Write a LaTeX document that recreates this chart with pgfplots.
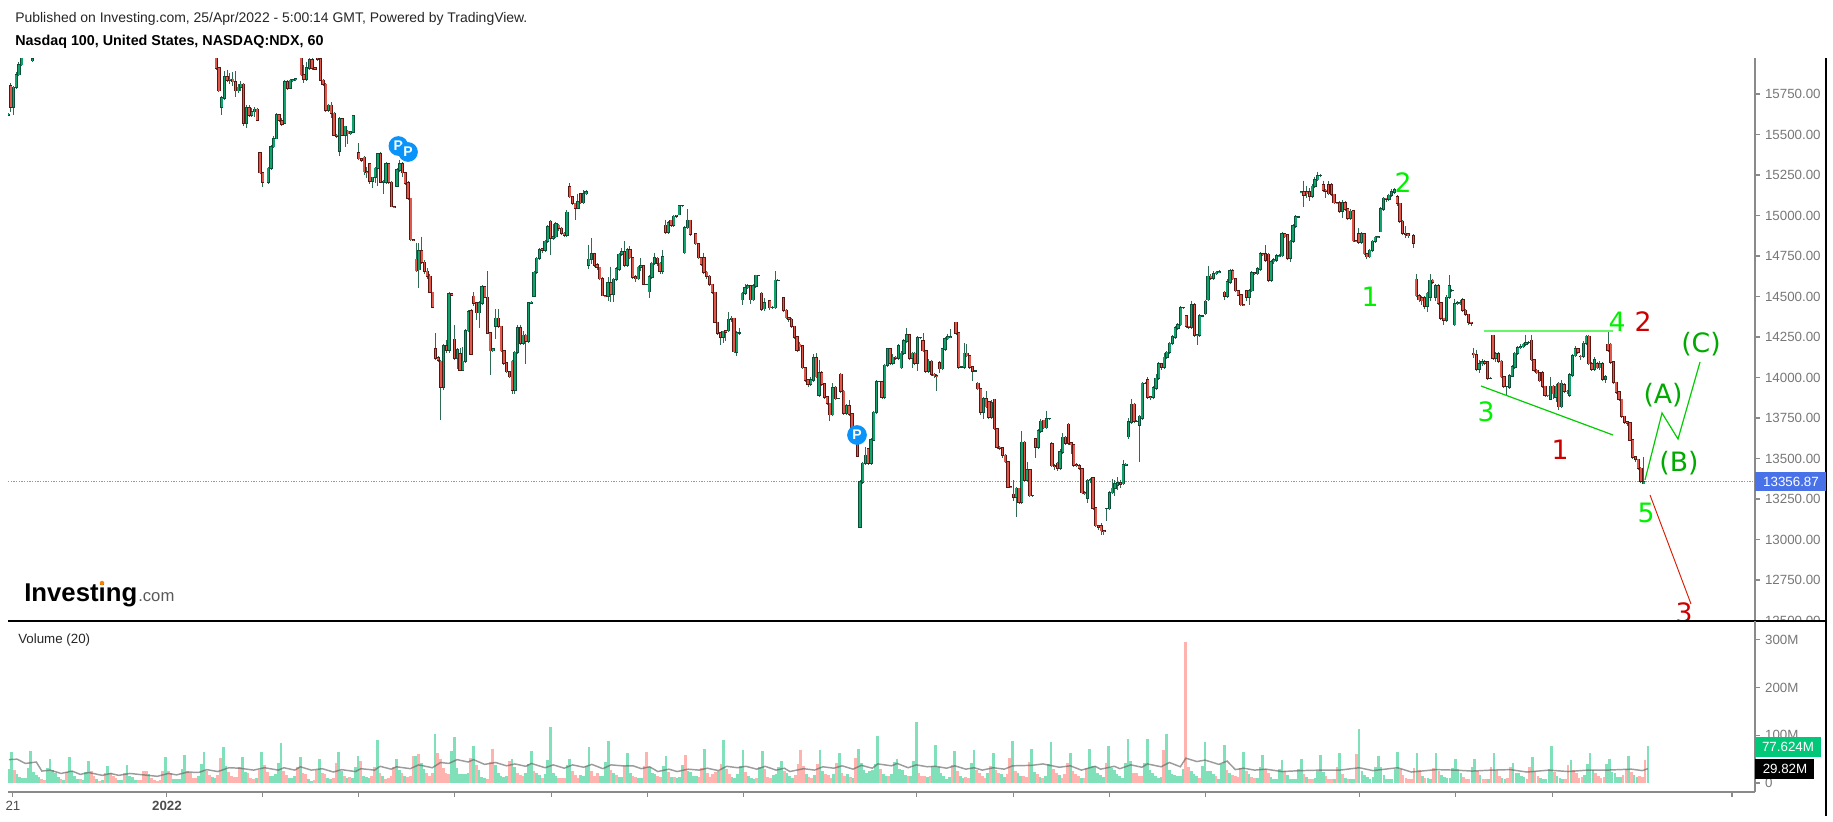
\documentclass[border=0pt]{standalone}
\usepackage{pgfplots}
\usepackage{pgfplotstable}
\usepackage{fontspec}
\setmainfont{Liberation Sans}
\newfontfamily\wavefont{DejaVu Sans}
\pgfplotsset{compat=1.18}
\definecolor{upf}{HTML}{12A36D}\definecolor{upo}{HTML}{0B4F38}
\definecolor{dnf}{HTML}{E0584C}\definecolor{dno}{HTML}{5A1712}
\definecolor{wickc}{HTML}{2F6B52}
\definecolor{vg}{HTML}{80E0B9}\definecolor{vr}{HTML}{FFB3AE}
\definecolor{axg}{HTML}{8A8A8A}\definecolor{txg}{HTML}{777777}
\definecolor{lime}{HTML}{00F000}\definecolor{wgreen}{HTML}{00AA00}\definecolor{wred}{HTML}{CC0000}
\definecolor{pblue}{HTML}{0A94FA}\definecolor{dotb}{HTML}{7F95E8}\definecolor{tagb}{HTML}{4A72E8}\definecolor{tagg}{HTML}{00C878}
\pgfplotstableread{
i o c l h
0 15620 15625 15612 15632
1 15800 15670 15640 15815
2 15670 15790 15620 15800
3 15790 15870 15780 15885
4 15870 15930 15860 15945
5 15930 16010 15920 16030
6 16010 16080 16000 16100
7 16080 16050 16020 16100
9 15955 15965 15945 15990
76 15990 15910 15900 16010
77 15910 15770 15765 15915
78 15670 15725 15620 15740
79 15725 15855 15715 15890
80 15855 15835 15825 15900
81 15835 15840 15810 15880
82 15840 15825 15800 15885
83 15825 15770 15730 15890
84 15770 15790 15755 15810
85 15790 15810 15770 15830
86 15810 15570 15550 15815
87 15570 15665 15540 15680
88 15665 15620 15610 15680
89 15620 15640 15605 15665
90 15640 15655 15610 15670
91 15655 15590 15585 15665
92 15385 15265 15255 15390
93 15265 15205 15175 15270
95 15205 15290 15195 15300
96 15290 15425 15280 15435
97 15425 15475 15415 15490
98 15475 15620 15470 15630
99 15620 15590 15580 15625
100 15585 15565 15555 15600
101 15570 15825 15565 15835
102 15825 15785 15775 15835
103 15785 15835 15780 15840
104 15835 15838 15825 15845
105 15838 15845 15830 15850
107 15990 15870 15860 16000
108 15870 15840 15820 15930
109 15840 15910 15830 15950
110 15910 15960 15900 15980
111 15960 15910 15895 15970
112 15910 15905 15895 15915
113 15990 15965 15955 16000
114 15965 15835 15830 15970
115 15835 15810 15800 15840
116 15810 15650 15640 15815
117 15650 15680 15640 15690
118 15680 15630 15600 15700
119 15630 15495 15490 15640
120 15495 15490 15480 15500
121 15395 15595 15365 15610
122 15595 15495 15490 15600
123 15495 15550 15420 15555
124 15520 15505 15440 15530
125 15505 15515 15495 15520
126 15515 15615 15510 15620
128 15385 15350 15340 15445
129 15350 15340 15330 15355
130 15360 15270 15250 15365
131 15270 15265 15230 15300
132 15320 15210 15195 15325
133 15210 15235 15170 15240
134 15235 15290 15200 15300
135 15290 15380 15180 15385
136 15380 15205 15200 15390
137 15205 15210 15130 15220
138 15205 15320 15195 15330
139 15320 15205 15195 15325
140 15205 15055 15050 15210
141 15055 15052 15045 15060
142 15180 15280 15175 15295
143 15280 15320 15270 15340
144 15320 15265 15240 15330
145 15265 15200 15190 15270
146 15200 15105 15095 15210
147 15105 14850 14845 15110
148 14850 14848 14840 14855
149 14730 14660 14650 14830
150 14665 14780 14555 14830
151 14780 14710 14700 14870
152 14710 14655 14640 14725
153 14655 14625 14610 14675
154 14625 14525 14520 14640
155 14525 14435 14430 14530
156 14175 14120 14110 14275
157 14120 14105 14095 14130
158 14100 13940 13735 14110
159 13940 14195 13925 14205
160 14195 14170 14150 14230
161 14170 14515 14150 14525
162 14515 14510 14505 14520
163 14235 14120 14110 14325
164 14120 14170 14055 14180
165 14145 14045 14040 14185
166 14045 14100 14040 14190
167 14100 14290 14090 14300
168 14290 14405 14280 14415
169 14410 14145 14140 14420
170 14500 14460 14440 14525
171 14460 14400 14355 14465
172 14400 14460 14305 14470
173 14460 14560 14450 14570
174 14560 14495 14490 14565
175 14495 14275 14270 14655
176 14275 14165 14015 14280
177 14165 14175 14160 14185
178 14315 14365 14240 14420
179 14365 14315 14305 14420
180 14315 14165 14155 14320
181 14165 14090 14080 14170
182 14090 14035 14025 14095
183 14035 14005 13995 14040
184 14100 13920 13900 14110
185 13920 14155 13900 14165
186 14155 14305 14145 14325
187 14305 14210 14200 14325
188 14210 14260 14200 14285
189 14260 14225 14085 14270
190 14225 14460 14215 14465
191 14460 14465 14455 14470
192 14500 14650 14495 14660
193 14650 14735 14640 14745
194 14735 14790 14725 14800
195 14795 14785 14770 14800
196 14785 14840 14775 14850
197 14840 14930 14830 14940
198 14965 14860 14755 14970
199 14860 14870 14850 14950
200 14870 14950 14860 14960
201 14940 14920 14905 14950
202 14920 14890 14880 14930
203 14890 14880 14865 14895
204 14880 15020 14870 15035
205 15175 15115 15105 15200
206 15115 15075 15065 15120
207 15075 15045 14975 15080
208 15045 15085 15040 15135
209 15135 15080 15070 15140
210 15080 15135 15070 15155
211 15135 15145 15125 15160
212 14695 14730 14670 14820
213 14730 14765 14700 14860
214 14765 14695 14680 14770
215 14695 14680 14665 14705
216 14680 14610 14600 14685
217 14610 14505 14500 14620
218 14505 14500 14495 14510
219 14500 14585 14470 14620
220 14585 14515 14465 14685
221 14515 14605 14465 14615
222 14605 14670 14595 14680
223 14670 14760 14660 14770
224 14760 14775 14750 14800
225 14775 14695 14685 14840
226 14695 14790 14685 14800
227 14790 14740 14730 14810
228 14740 14620 14610 14745
229 14620 14610 14590 14630
230 14610 14680 14600 14690
231 14680 14690 14660 14735
232 14690 14575 14570 14695
233 14575 14575 14570 14580
234 14530 14620 14490 14630
235 14620 14705 14610 14715
236 14705 14740 14695 14770
237 14735 14705 14690 14745
238 14705 14655 14640 14710
239 14655 14745 14640 14785
240 14940 14895 14885 14975
241 14895 14955 14885 14965
242 14970 14940 14930 14975
243 14940 14995 14930 15005
244 15000 14995 14985 15005
245 15005 15060 15000 15065
246 15060 15060 15055 15065
247 14770 14925 14765 14935
248 14925 14970 14915 15040
249 14970 14885 14875 14975
251 14885 14825 14815 14890
252 14825 14740 14730 14830
253 14740 14700 14690 14745
254 14740 14650 14640 14770
255 14650 14625 14610 14660
256 14625 14575 14565 14630
257 14575 14525 14515 14580
258 14525 14340 14335 14530
259 14340 14275 14265 14345
260 14275 14250 14200 14280
261 14250 14285 14210 14290
262 14290 14280 14225 14295
263 14290 14360 14280 14405
264 14360 14365 14340 14380
265 14365 14160 14150 14370
266 14155 14275 14130 14285
267 14275 14275 14265 14305
268 14480 14520 14450 14530
269 14520 14555 14510 14575
270 14555 14565 14545 14575
271 14565 14480 14455 14570
272 14480 14565 14470 14575
273 14565 14630 14555 14635
274 14630 14630 14625 14635
275 14520 14420 14410 14525
276 14425 14460 14410 14490
278 14475 14430 14415 14480
279 14430 14430 14420 14440
280 14430 14600 14420 14655
281 14600 14600 14595 14605
283 14490 14415 14405 14495
284 14415 14370 14360 14420
285 14370 14360 14345 14375
286 14360 14315 14305 14365
287 14315 14250 14240 14320
288 14250 14170 14160 14255
289 14205 14190 14165 14220
290 14195 14060 14050 14200
291 14060 13985 13975 14065
292 13985 13960 13940 13990
293 13960 13985 13950 14000
294 13985 14120 13975 14145
295 14120 14005 13995 14150
296 13890 14030 13880 14110
297 14030 13960 13950 14040
298 13960 13880 13870 13965
299 13880 13840 13830 13885
300 13840 13770 13730 13845
301 13770 13935 13760 13965
302 13940 13870 13860 13945
303 13870 13870 13865 13875
304 14020 13915 13905 14030
305 13915 13780 13770 13920
306 13780 13825 13770 13835
307 13825 13775 13765 13860
308 13775 13685 13675 13780
309 13685 13595 13590 13690
310 13595 13515 13510 13600
311 13075 13355 13070 13365
312 13355 13470 13345 13480
313 13470 13520 13460 13570
314 13560 13470 13460 13565
315 13470 13615 13460 13625
316 13615 13785 13605 13795
317 13785 13975 13775 13985
318 13975 13975 13970 13980
319 13975 13880 13870 13980
320 13880 14075 13870 14085
321 14075 14175 14065 14180
322 14175 14090 14080 14180
323 14090 14125 14080 14145
324 14125 14120 14105 14135
325 14120 14195 14110 14205
326 14060 14150 14050 14165
327 14150 14225 14140 14240
328 14225 14265 14215 14305
329 14265 14120 14110 14270
330 14120 14150 14060 14160
331 14150 14090 14080 14155
332 14090 14245 14040 14255
333 14245 14245 14240 14250
334 14225 14165 14155 14275
335 14165 14040 14030 14170
336 14040 14100 14030 14115
337 14100 14020 14010 14110
338 14020 14012 13995 14030
339 14012 14010 13915 14020
340 14090 14055 14025 14100
341 14055 14175 14045 14185
342 14175 14240 14165 14250
343 14240 14250 14230 14270
344 14250 14252 14245 14300
346 14340 14275 14265 14345
347 14275 14065 14055 14280
348 14065 14065 14060 14070
349 14065 14150 14055 14210
350 14150 14135 14125 14205
351 14135 14065 14055 14140
352 14065 14040 13980 14070
353 14040 14040 14035 14045
354 13965 13930 13920 13970
355 13930 13785 13770 13935
356 13785 13870 13745 13880
357 13870 13820 13810 13915
358 13850 13755 13745 13855
359 13755 13845 13745 13860
360 13865 13685 13675 13870
361 13685 13570 13560 13690
362 13570 13565 13550 13575
363 13565 13520 13505 13570
364 13520 13480 13470 13525
365 13480 13325 13315 13485
366 13325 13320 13315 13330
367 13280 13260 13240 13365
368 13260 13315 13140 13325
369 13315 13230 13220 13320
370 13230 13600 13220 13670
371 13600 13365 13355 13610
372 13365 13430 13355 13480
373 13430 13270 13260 13435
374 13270 13270 13265 13275
375 13620 13570 13505 13625
376 13570 13670 13560 13680
377 13670 13730 13660 13745
378 13735 13690 13680 13740
379 13690 13745 13680 13795
380 13745 13745 13740 13750
381 13590 13455 13445 13600
382 13455 13450 13430 13465
383 13470 13440 13420 13480
384 13440 13540 13430 13560
385 13540 13630 13530 13655
386 13630 13595 13585 13640
387 13710 13595 13585 13720
388 13595 13585 13530 13600
389 13585 13460 13450 13590
390 13460 13455 13445 13470
391 13455 13440 13430 13465
392 13435 13290 13280 13440
393 13290 13285 13275 13300
394 13255 13365 13225 13375
395 13365 13370 13350 13380
396 13380 13195 13185 13385
397 13195 13085 13075 13200
398 13085 13075 13060 13090
399 13085 13055 13025 13100
400 13055 13050 13030 13060
401 13190 13190 13115 13195
402 13190 13290 13180 13300
403 13290 13315 13280 13375
404 13315 13345 13270 13365
405 13335 13350 13305 13385
406 13350 13340 13315 13370
407 13345 13460 13335 13490
408 13460 13465 13455 13470
409 13635 13725 13620 13750
410 13725 13835 13715 13870
411 13835 13730 13720 13845
412 13730 13730 13725 13735
413 13705 13760 13480 13770
414 13750 13965 13740 13970
415 13965 13965 13960 13970
416 13985 13880 13870 14000
417 13880 13875 13860 13885
418 13880 13935 13865 13945
419 13935 13995 13925 14020
420 13995 14085 13985 14095
421 14085 14065 14045 14090
422 14065 14125 14055 14150
423 14125 14155 14115 14165
424 14155 14210 14145 14220
425 14210 14250 14200 14265
426 14250 14305 14240 14315
427 14305 14325 14295 14335
428 14325 14430 14315 14440
429 14430 14430 14425 14435
430 14380 14315 14305 14385
431 14315 14310 14300 14320
432 14310 14450 14300 14475
433 14450 14260 14250 14460
434 14260 14262 14200 14270
435 14262 14380 14250 14390
436 14380 14380 14375 14385
437 14395 14470 14385 14480
438 14480 14625 14470 14690
439 14625 14615 14600 14640
440 14615 14640 14600 14655
441 14640 14650 14630 14660
442 14650 14652 14645 14665
444 14525 14500 14480 14535
445 14500 14590 14490 14605
446 14590 14660 14580 14670
447 14660 14610 14600 14670
448 14610 14535 14525 14615
449 14535 14510 14500 14540
450 14510 14450 14440 14515
451 14450 14448 14440 14455
452 14535 14495 14470 14540
453 14495 14535 14450 14545
454 14535 14645 14525 14655
455 14645 14640 14630 14650
456 14640 14670 14630 14680
457 14670 14765 14660 14775
458 14765 14760 14750 14770
459 14765 14725 14715 14815
460 14760 14600 14590 14770
461 14600 14715 14590 14725
462 14715 14725 14700 14735
463 14725 14750 14715 14760
464 14750 14752 14745 14760
465 14752 14885 14745 14900
466 14885 14870 14860 14890
467 14880 14735 14725 14885
468 14735 14840 14710 14850
469 14840 14935 14830 14945
470 14935 14990 14925 15000
471 14990 14990 14985 14995
472 15145 15148 15140 15150
473 15147 15125 15050 15215
474 15145 15135 15110 15180
475 15147 15120 15090 15170
476 15120 15180 15110 15195
477 15180 15220 15170 15240
478 15220 15245 15210 15268
479 15245 15245 15235 15255
480 15190 15155 15145 15215
481 15155 15150 15105 15165
482 15190 15135 15125 15210
483 15190 15130 15120 15200
484 15130 15080 15070 15135
485 15080 15078 15070 15085
486 15080 15025 15015 15090
487 15025 15080 14985 15095
488 15080 15040 15030 15090
489 15040 14985 14975 15045
490 14985 15025 14970 15040
491 15030 14845 14835 15035
492 14845 14842 14835 14850
493 14885 14835 14825 14925
494 14835 14885 14825 14895
495 14885 14765 14755 14890
496 14765 14745 14730 14770
497 14745 14785 14735 14795
498 14785 14840 14775 14850
499 14840 14865 14830 14875
500 14865 14868 14860 14875
501 14900 15040 14895 15050
502 15040 15105 15030 15115
503 15105 15100 15085 15110
504 15100 15125 15090 15135
505 15125 15145 15115 15165
506 15145 15160 15135 15170
507 15115 15075 15060 15125
508 15075 14965 14955 15080
509 14965 14890 14880 14970
510 14890 14885 14860 14935
511 14885 14875 14860 14890
513 14875 14830 14800 14885
514 14605 14505 14495 14640
515 14505 14480 14465 14515
516 14490 14475 14450 14500
517 14490 14440 14425 14500
518 14440 14520 14405 14530
519 14495 14600 14470 14640
520 14600 14590 14575 14610
521 14495 14565 14470 14575
522 14565 14460 14450 14575
523 14460 14365 14355 14465
524 14365 14355 14325 14370
525 14355 14495 14345 14510
526 14495 14565 14485 14630
527 14535 14535 14525 14545
528 14325 14455 14315 14485
529 14455 14460 14445 14470
530 14460 14462 14450 14480
531 14480 14415 14405 14490
532 14415 14390 14380 14425
533 14390 14340 14325 14395
534 14340 14335 14320 14345
535 14150 14140 14120 14185
536 14140 14050 14040 14170
537 14050 14085 14030 14110
538 14085 14095 14070 14115
539 14095 14090 14080 14105
540 14095 13995 13985 14100
541 13995 13995 13990 14005
542 14260 14120 14105 14265
543 14120 14145 14095 14155
544 14145 14100 14090 14155
545 14100 14005 13995 14105
546 14005 13945 13935 14010
547 13945 13945 13890 13950
548 13940 14010 13930 14020
549 14010 14065 14000 14075
550 14065 14150 14055 14160
551 14150 14185 14140 14195
552 14185 14190 14175 14205
553 14190 14205 14180 14215
554 14205 14215 14195 14265
555 14215 14215 14205 14225
556 14230 14110 14100 14265
557 14110 14045 14035 14115
558 14045 14030 14020 14055
559 14030 13980 13970 14035
560 14030 13945 13935 14040
561 13945 13890 13880 13950
562 13890 13888 13880 13895
563 13865 13945 13860 14000
564 13945 13900 13865 13955
565 13880 13945 13850 13960
566 13965 13820 13800 13970
567 13820 13965 13810 13985
568 13955 13915 13905 13965
569 13915 13912 13900 13925
570 13890 14015 13880 14030
571 14015 14135 14005 14145
572 14135 14175 14125 14195
573 14175 14155 14145 14185
574 14130 14128 14110 14140
575 14130 14210 14120 14225
576 14210 14255 14200 14265
577 14255 14085 14075 14265
578 14085 14050 14040 14095
579 14050 14110 14040 14125
580 14085 14060 14050 14095
581 14060 14085 14045 14100
582 14085 13990 13980 14095
583 13990 14005 13965 14015
584 14205 14170 14160 14285
585 14205 14095 14085 14215
586 14095 13970 13960 14100
587 13970 13910 13900 13975
588 13910 13865 13855 13915
589 13865 13760 13750 13870
590 13760 13725 13715 13765
591 13725 13720 13700 13730
592 13720 13615 13605 13725
593 13615 13510 13500 13620
594 13510 13495 13480 13515
595 13495 13440 13430 13500
596 13440 13360 13350 13445
597 13345 13357 13340 13510
}\candle
\pgfplotstableread[row sep=\\]{
v f\\
30 1\\64 1\\28 0\\19 1\\13 1\\11 1\\11 1\\
32 1\\67 1\\23 1\\17 1\\12 1\\9 0\\7 0\\
32 1\\51 1\\27 1\\22 1\\13 1\\9 0\\6 1\\
23 0\\55 1\\25 1\\15 1\\9 1\\9 0\\6 1\\
24 1\\46 1\\25 0\\14 0\\9 1\\5 0\\7 1\\
22 0\\36 1\\22 0\\15 0\\10 0\\6 1\\6 1\\
20 0\\38 1\\14 1\\12 1\\7 1\\6 0\\6 0\\
25 0\\25 0\\19 1\\10 0\\6 0\\5 0\\6 0\\
26 0\\55 1\\26 0\\20 0\\9 1\\9 1\\9 1\\
29 1\\59 1\\26 0\\22 0\\11 0\\11 0\\14 1\\
39 1\\64 1\\25 0\\17 0\\12 1\\11 1\\16 0\\
52 0\\75 1\\36 1\\24 0\\15 0\\12 0\\13 0\\
34 0\\55 1\\24 1\\22 0\\11 0\\9 0\\11 1\\
28 0\\64 1\\38 0\\24 0\\15 1\\15 1\\19 1\\
42 1\\83 1\\25 0\\17 0\\10 1\\11 1\\15 1\\
34 0\\55 1\\22 0\\18 0\\9 1\\5 1\\7 0\\
28 0\\51 1\\20 0\\18 0\\11 1\\8 1\\11 0\\
42 0\\64 1\\25 1\\15 0\\11 1\\12 0\\11 1\\
33 1\\57 1\\46 0\\14 1\\12 1\\11 1\\14 0\\
33 0\\91 1\\22 0\\14 1\\9 0\\11 0\\15 0\\
34 0\\51 1\\28 1\\22 0\\15 1\\13 0\\14 0\\
57 0\\57 1\\60 0\\42 1\\30 1\\21 0\\15 0\\
22 0\\103 1\\62 0\\51 0\\32 0\\22 0\\19 0\\
68 1\\96 1\\32 1\\18 1\\18 1\\19 1\\20 1\\
52 0\\78 1\\37 0\\28 1\\13 1\\11 1\\9 0\\
45 0\\72 0\\38 1\\22 1\\15 1\\12 1\\14 1\\
46 0\\51 1\\34 1\\22 0\\16 0\\14 0\\20 1\\
40 1\\67 1\\26 0\\22 1\\16 1\\11 0\\18 1\\
48 1\\117 1\\20 1\\14 1\\11 0\\11 0\\11 0\\
37 1\\51 1\\26 0\\17 0\\11 0\\16 1\\15 1\\
35 1\\75 1\\26 0\\15 0\\20 0\\14 1\\14 1\\
44 1\\88 1\\28 0\\20 1\\16 0\\13 1\\13 1\\
36 0\\62 1\\20 1\\15 0\\13 0\\11 1\\11 1\\
36 0\\65 0\\33 1\\21 1\\18 1\\14 0\\12 0\\
35 1\\57 1\\24 0\\13 1\\13 0\\11 1\\13 1\\
38 1\\59 0\\26 1\\23 1\\15 1\\15 1\\13 0\\
31 0\\72 1\\21 0\\13 0\\18 0\\23 0\\25 1\\
40 0\\91 1\\30 0\\18 0\\13 1\\11 1\\18 1\\
36 1\\70 1\\23 0\\15 1\\11 1\\8 1\\11 0\\
33 1\\67 1\\30 0\\13 0\\11 0\\16 1\\18 1\\
33 1\\46 1\\26 0\\22 1\\15 1\\11 1\\16 0\\
40 0\\70 0\\35 0\\18 1\\13 0\\11 0\\16 1\\
39 0\\70 1\\26 1\\19 0\\16 0\\11 0\\18 1\\
42 0\\62 1\\22 0\\15 0\\19 1\\12 0\\11 1\\
53 0\\72 1\\41 1\\28 1\\22 1\\25 1\\28 1\\
39 1\\98 1\\30 0\\19 1\\14 1\\15 0\\18 1\\
45 1\\51 1\\29 1\\28 1\\16 1\\15 0\\15 1\\
46 1\\127 1\\22 0\\14 0\\15 0\\13 1\\15 0\\
36 1\\80 1\\34 1\\20 1\\14 1\\8 1\\13 1\\
38 0\\67 1\\26 0\\15 1\\10 1\\13 0\\11 0\\
41 1\\70 1\\27 0\\20 0\\14 0\\11 0\\20 1\\
36 0\\62 1\\28 0\\20 0\\18 1\\13 1\\18 0\\
53 0\\88 1\\26 0\\22 1\\14 1\\15 0\\13 0\\
44 0\\72 1\\23 1\\19 0\\13 1\\11 0\\15 1\\
39 1\\85 1\\30 0\\22 0\\16 1\\11 0\\19 0\\
42 0\\62 1\\26 0\\18 0\\14 0\\11 1\\11 0\\
32 0\\72 1\\36 1\\35 1\\22 1\\16 1\\13 1\\
42 0\\78 1\\32 1\\28 1\\18 1\\15 1\\11 1\\
42 1\\93 1\\46 1\\22 0\\20 0\\14 0\\14 0\\
42 1\\93 1\\28 1\\22 1\\14 1\\11 1\\13 1\\
70 0\\103 1\\28 1\\18 1\\16 1\\15 1\\14 1\\
29 1\\296 0\\33 0\\25 1\\18 1\\15 1\\11 0\\
35 1\\86 1\\26 1\\25 1\\18 1\\14 0\\9 1\\
39 1\\80 1\\28 0\\22 1\\16 0\\14 0\\13 0\\
32 0\\65 1\\26 0\\19 1\\13 0\\11 0\\11 1\\
34 1\\59 1\\30 0\\20 0\\13 1\\9 1\\9 1\\
30 1\\49 1\\26 0\\16 1\\9 1\\9 1\\9 1\\
30 1\\51 1\\19 0\\12 1\\9 0\\9 0\\11 1\\
25 1\\59 1\\24 1\\14 0\\9 0\\9 0\\9 1\\
33 0\\62 1\\18 0\\11 1\\9 0\\9 1\\9 1\\
60 0\\113 1\\26 1\\16 1\\12 1\\9 1\\13 1\\
33 1\\57 1\\33 1\\17 1\\9 1\\9 1\\9 1\\
30 1\\65 1\\30 0\\17 0\\11 0\\9 0\\9 0\\
32 0\\62 1\\27 0\\14 1\\11 0\\11 1\\9 1\\
32 0\\62 1\\26 0\\17 1\\13 1\\11 1\\11 1\\
32 1\\51 1\\30 1\\22 1\\13 0\\9 0\\9 0\\
33 1\\51 1\\26 0\\16 1\\9 0\\9 0\\9 1\\
33 0\\62 1\\28 0\\15 0\\11 1\\9 1\\11 0\\
33 0\\41 1\\22 1\\20 1\\15 1\\12 1\\9 0\\
33 0\\55 1\\25 0\\15 0\\11 1\\9 1\\9 1\\
30 1\\78 1\\23 0\\14 1\\11 1\\9 1\\9 0\\
38 0\\49 1\\28 0\\20 0\\11 0\\12 0\\16 1\\
40 1\\62 1\\28 1\\20 0\\14 0\\11 0\\12 0\\
39 1\\51 1\\24 1\\20 1\\13 1\\13 1\\16 0\\
30 0\\57 1\\24 0\\16 1\\13 1\\14 0\\12 0\\
49 0\\78 1\\
}\volu
\pgfplotstableread{
k m
0 49
3 50
6 41
10 44
12 25
15 27
19 20
23 25
26 18
29 22
34 16
37 20
40 16
44 20
54 14
58 20
61 17
65 23
69 22
72 28
76 24
80 32
84 31
89 27
93 32
98 27
100 32
104 27
106 34
110 27
114 30
118 23
121 28
126 24
128 30
133 27
135 35
139 29
141 34
146 30
149 38
154 32
157 43
160 41
163 49
167 44
169 49
173 39
177 43
181 36
184 40
188 35
190 41
195 32
198 38
202 31
205 38
209 33
212 39
216 30
219 38
223 36
227 36
230 30
233 34
236 24
240 29
243 24
247 29
251 27
254 31
258 26
261 35
265 32
268 35
272 29
275 35
279 27
282 31
284 24
289 30
293 27
296 34
300 31
303 36
307 29
310 37
314 31
316 40
321 36
323 41
327 32
330 38
334 34
337 35
341 31
344 36
348 29
351 32
354 27
358 32
362 29
365 36
372 37
376 40
382 33
386 36
390 27
395 35
397 29
402 35
404 30
408 38
412 33
414 40
419 34
422 43
426 34
428 52
432 45
435 48
440 39
443 46
446 28
449 31
453 27
457 29
463 24
470 26
477 27
484 27
491 32
496 26
505 32
510 23
519 28
526 27
532 25
539 27
546 28
552 23
560 27
567 24
574 27
581 27
590 29
594 26
596 30
}\mavol
\pgfplotsset{eb/.style n args={2}{draw=none,mark=none,forget plot,restrict x to domain=-1:2000,
  error bars/.cd,y dir=minus,y explicit,error mark=none,
  error bar style={line width=#1,color=#2,line cap=butt,solid}}}
\begin{document}
\begin{tikzpicture}
\path (0,0) rectangle (1374.75pt,-615.75pt);
\begin{axis}[scale only axis,width=1310.25pt,height=422.25pt,at={(6pt,-465.75pt)},anchor=south west,
  xmin=0,xmax=637.6,ymin=12497,ymax=15972,scaled y ticks=false,
  axis x line=none,axis y line=right,axis line style={-,draw=axg,line width=1.5pt},
  ytick={12500,12750,13000,13250,13500,13750,14000,14250,14500,14750,15000,15250,15500,15750},
  yticklabels={12500.00,12750.00,13000.00,13250.00,13500.00,13750.00,14000.00,14250.00,14500.00,14750.00,15000.00,15250.00,15500.00,15750.00},
  tick align=outside,major tick length=3.5pt,tick style={draw=axg,line width=.8pt},
  y tick label style={font=\fontsize{10}{12}\selectfont,color=txg,xshift=0.5pt}]
\addplot[color=dotb,line width=.9pt,dash pattern=on 1pt off 1pt,forget plot] coordinates {(0,13356.87) (637.6,13356.87)};
\addplot[eb={.75pt}{wickc}] table[x expr={\thisrow{i}},y=h,y error minus expr=\thisrow{h}-\thisrow{l}]{\candle};
\addplot[eb={2.45pt}{upo}] table[x expr={\thisrow{c}>=\thisrow{o}?\thisrow{i}:-50},y expr=\thisrow{c}+4,y error minus expr=\thisrow{c}-\thisrow{o}+8]{\candle};
\addplot[eb={1.25pt}{upf}] table[x expr={\thisrow{c}>=\thisrow{o}?\thisrow{i}:-50},y=c,y error minus expr=\thisrow{c}-\thisrow{o}]{\candle};
\addplot[eb={2.45pt}{dno}] table[x expr={\thisrow{c}>=\thisrow{o}?-50:\thisrow{i}},y expr=\thisrow{o}+4,y error minus expr=\thisrow{o}-\thisrow{c}+8]{\candle};
\addplot[eb={1.25pt}{dnf}] table[x expr={\thisrow{c}>=\thisrow{o}?-50:\thisrow{i}},y=o,y error minus expr=\thisrow{o}-\thisrow{c}]{\candle};
\end{axis}
\begin{scope}[x=.75pt,y=-.75pt]
% wave drawings
\draw[line width=1.5pt,draw=lime!60!white] (1484,331) -- (1613,331);
\draw[lime!85!black,line width=.9pt] (1481,386) -- (1613,435);
\draw[lime!85!black,line width=.9pt] (1645,480) -- (1662,413) -- (1678,439) -- (1700,362);
\draw[red!75!orange!85!black,line width=.7pt] (1650,495) -- (1691,604);
\foreach \p/\t/\c in {{1370,297}/1/lime,{1403,183}/2/lime,{1486,412}/3/lime,{1617,322}/4/lime,{1646,513}/5/lime,
  {1560,450}/1/wred,{1643,322}/2/wred,{1684,613}/3/wred,
  {1663,395}/(A)/wgreen,{1679,463}/(B)/wgreen,{1701,344}/(C)/wgreen}
  \node[color=\c,font=\wavefont\fontsize{20}{22}\selectfont,inner sep=0pt] at (\p) {\t};
% dividend markers
\foreach \p in {{398.4,146},{408,152},{857,435}}{
  \fill[pblue] (\p) circle (7.4pt);
  \node[white,font=\bfseries\fontsize{10.5}{12}\selectfont,inner sep=0pt] at (\p) {P};}
% pane cover and frame
\fill[white] (8,622) rectangle (1825,645);
\draw[black,line width=1.5pt] (8,621) -- (1826,621);
\draw[black,line width=1.5pt] (1826,58) -- (1826,816);
\end{scope}
\begin{axis}[scale only axis,width=1310.25pt,height=128.25pt,at={(6pt,-594pt)},anchor=south west,
  xmin=-0.3,xmax=634.97,ymin=-18.9,ymax=339.6,clip=true,scaled y ticks=false,
  axis x line=bottom,axis y line=right,axis line style={-,draw=axg,line width=1.5pt},
  ytick={0,100,200,300},yticklabels={0,100M,200M,300M},
  xtick={1.5,57.5,92.4,127.3,162.2,197.2,232.4,267.3,330.2,365.2,400.4,435.3,491,526.2,561.2,626.6},
  xticklabels={21,\textbf{2022},,,,,,,,,,,,,,},
  tick align=outside,major tick length=3.5pt,tick style={draw=axg,line width=.8pt},
  y tick label style={font=\fontsize{10}{12}\selectfont,color=txg,xshift=0.5pt,anchor=west},
  x tick label style={font=\fontsize{10}{12}\selectfont,color=black!70,yshift=0pt}]
\addplot[eb={2.05pt}{vg}] table[x expr={\thisrow{f}>0?\coordindex:-50},y=v,y error minus expr=\thisrow{v}]{\volu};
\addplot[eb={2.05pt}{vr}] table[x expr={\thisrow{f}>0?-50:\coordindex},y=v,y error minus expr=\thisrow{v}]{\volu};
\addplot[draw=black!60,opacity=.65,line width=1.1pt,forget plot] table[x=k,y=m]{\mavol};
\end{axis}
\begin{scope}[x=.75pt,y=-.75pt]
\node[anchor=base west,inner sep=0pt,font=\fontsize{10.47}{12}\selectfont,color=black!85] at (15,22) {Published on Investing.com, 25/Apr/2022 - 5:00:14 GMT, Powered by TradingView.};
\node[anchor=base west,inner sep=0pt,font=\bfseries\fontsize{10.75}{12}\selectfont] at (15,45) {Nasdaq 100, United States, NASDAQ:NDX, 60};
\node[anchor=base west,inner sep=0pt,font=\fontsize{10}{12}\selectfont,color=black!85] at (18,643) {Volume (20)};
% logo
\node[anchor=base west,inner sep=0pt,font=\bfseries\fontsize{19.3}{22}\selectfont] at (24,601) {Investing};
\node[anchor=base west,inner sep=0pt,font=\fontsize{12.5}{14}\selectfont,color=black!65] at (138,601) {.com};
\fill[orange] (102,583) circle (1.7pt);
% value tags
\fill[tagb] (1755,472) rectangle (1826,491);
\node[white,inner sep=0pt,font=\fontsize{10}{12}\selectfont] at (1791,481.5) {13356.87};
\fill[tagg] (1755,737) rectangle (1821,757);
\node[white,inner sep=0pt,font=\fontsize{10}{12}\selectfont] at (1788,747) {77.624M};
\fill[black] (1755,759) rectangle (1814,779);
\node[white,inner sep=0pt,font=\fontsize{10}{12}\selectfont] at (1785,769) {29.82M};
\end{scope}
\end{tikzpicture}
\end{document}
